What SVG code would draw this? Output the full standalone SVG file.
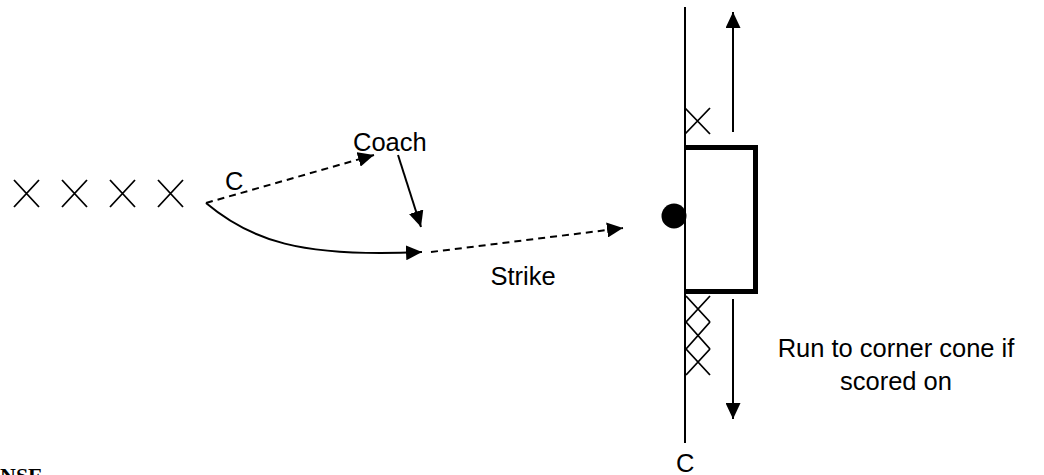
<svg xmlns="http://www.w3.org/2000/svg" width="1044" height="475" viewBox="0 0 1044 475">
<style>
.ln{stroke:#000;stroke-width:2;fill:none}
.dash{stroke:#000;stroke-width:2;fill:none;stroke-dasharray:7 5}
.x{stroke:#000;stroke-width:1.8;fill:none}
.t{font-family:"Liberation Sans",Arial,sans-serif;font-size:25.5px;fill:#000}
</style>
<defs>
<marker id="ah" markerUnits="userSpaceOnUse" markerWidth="17" markerHeight="15" refX="16" refY="7.5" orient="auto">
<path d="M0,0 L16,7.5 L0,15 Z" fill="#000"/>
</marker>
</defs>
<rect width="1044" height="475" fill="#fff"/>
<g id="players-line">
<path class="x" d="M14,180 L39,207 M14,207 L39,180"/>
<path class="x" d="M62,180 L87,207 M62,207 L87,180"/>
<path class="x" d="M110,180 L135,207 M110,207 L135,180"/>
<path class="x" d="M158,180 L183,207 M158,207 L183,180"/>
</g>
<g id="label-c-start"><text class="t" x="225" y="190">C</text></g>
<g id="coach"><text class="t" x="353" y="151">Coach</text></g>
<g id="goal-line"><line class="ln" x1="685" y1="7" x2="685" y2="443"/></g>
<g id="goal"><path d="M685,147.5 H755.5 V291.5 H685" fill="none" stroke="#000" stroke-width="5"/></g>
<g id="ball"><circle cx="674" cy="216" r="12.5" fill="#000"/></g>
<g id="defender-top"><path class="x" d="M685,108 L710,134 M685,134 L710,108"/></g>
<g id="defenders-bottom">
<path class="x" d="M686,296 L710,322 M686,322 L710,296"/>
<path class="x" d="M686,322 L710,349 M686,349 L710,322"/>
<path class="x" d="M686,349 L710,375 M686,375 L710,349"/>
</g>
<g id="label-strike"><text class="t" x="523" y="285" text-anchor="middle">Strike</text></g>
<g id="label-run"><text class="t" text-anchor="middle"><tspan x="896" y="357">Run to corner cone if</tspan><tspan x="896" y="390">scored on</tspan></text></g>
<g id="label-c-bottom"><text class="t" x="676" y="472">C</text></g>
<g id="caption"><text x="0" y="483" style="font-family:'Liberation Serif','Times New Roman',serif;font-weight:bold;font-size:22px">NSE</text></g>
<g id="connectors">
<line class="dash" x1="206" y1="203" x2="374" y2="155" marker-end="url(#ah)"/>
<line class="ln" x1="398" y1="155" x2="421" y2="227" marker-end="url(#ah)"/>
<path class="ln" d="M206,203 C250,240 300,258 422,252" marker-end="url(#ah)"/>
<line class="dash" x1="431" y1="252" x2="623" y2="228" marker-end="url(#ah)"/>
<line class="ln" x1="733" y1="132" x2="733" y2="12" marker-end="url(#ah)"/>
<line class="ln" x1="733" y1="299" x2="733" y2="419" marker-end="url(#ah)"/>
</g>
</svg>
